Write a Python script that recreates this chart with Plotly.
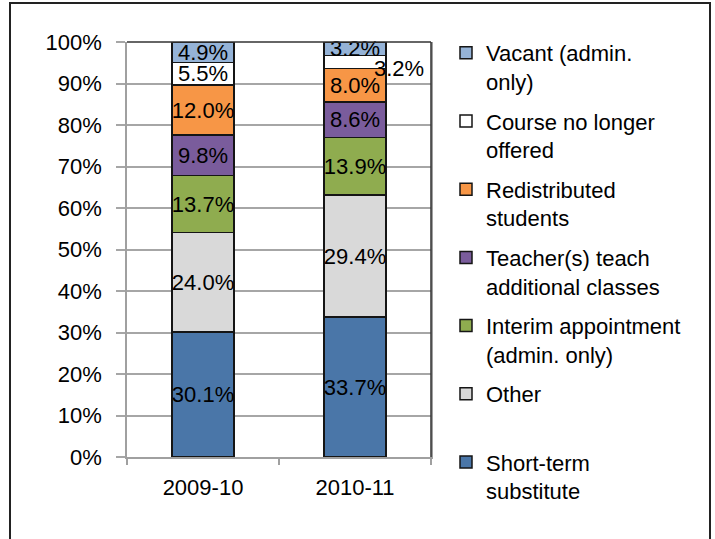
import plotly.graph_objects as go

categories = ["2009-10", "2010-11"]
series_names = [
    "Short-term<br>substitute",
    "Other<br>&nbsp;",
    "Interim appointment<br>(admin. only)",
    "Teacher(s) teach<br>additional classes",
    "Redistributed<br>students",
    "Course no longer<br>offered",
    "Vacant (admin.<br>only)",
]
short_term = [30.1, 33.7]
other = [24.0, 29.4]
interim = [13.7, 13.9]
teacher = [9.8, 8.6]
redistributed = [12.0, 8.0]
course_gone = [5.5, 3.2]
vacant = [4.9, 3.2]
series_values = [short_term, other, interim, teacher, redistributed, course_gone, vacant]
colors = ["#4a76a8", "#d9d9d9", "#8fac4f", "#7a5c9c", "#f79646", "#ffffff", "#95b3d7"]
y_ticks = list(range(0, 101, 10))
y_ticktext = [f"{v}%" for v in y_ticks]

FONT = "Arial, Liberation Sans, sans-serif"

# plot-area pixel geometry (used only for layout/margins)
W, H = 715, 539
L, R, T, B = 127, 431, 42, 457

fig = go.Figure()
n = len(series_names)
for i, (name, vals, col) in enumerate(zip(series_names, series_values, colors)):
    texts = [f"{v:.1f}%" for v in vals]
    if name.startswith("Course"):
        texts[1] = ""
    fig.add_trace(go.Bar(
        x=categories, y=vals, name=name, marker=dict(color=col, line=dict(color="#151515", width=1.5)),
        text=texts, textposition="inside", insidetextanchor="middle", textangle=0,
        textfont=dict(family=FONT, size=22, color="black"), cliponaxis=False,
        legendgroup=f"g{i}", legendrank=n - i, hoverinfo="skip",
    ))

# outside label for small 2010-11 "Course no longer offered" segment
cum = sum(s[1] for s in series_values[:5])
fig.add_annotation(x=categories[1], y=cum + course_gone[1] / 2, text=f"{course_gone[1]:.1f}%",
                   showarrow=False, xshift=44, yshift=-7,
                   font=dict(family=FONT, size=22, color="black"))

px = lambda x: (x - L) / (R - L)
py = lambda y: (B - y) / (B - T)
fig.add_shape(type="rect", xref="paper", yref="paper", x0=px(10), x1=px(710), y0=py(560), y1=py(3),
              line=dict(color="#222222", width=2), layer="above")

fig.update_layout(
    width=W, height=H,
    margin=dict(l=L, r=W - R, t=T, b=H - B, pad=0, autoexpand=False),
    barmode="stack", bargap=0.59,
    plot_bgcolor="white", paper_bgcolor="white",
    font=dict(family=FONT, size=22, color="black"),
    uniformtext=dict(minsize=22, mode="show"),
    showlegend=True,
    legend=dict(x=px(446), y=py(32), xanchor="left", yanchor="top",
                traceorder="grouped", tracegroupgap=8, valign="top", maxheight=530,
                font=dict(family=FONT, size=22, color="black"),
                bgcolor="rgba(0,0,0,0)"),
    xaxis=dict(type="category", showline=True, linecolor="#a0a0a0", linewidth=1.5, mirror=False,
               ticks="outside", ticklen=6, tickcolor="#a0a0a0", tickwidth=1.5, tickson="boundaries",
               ticklabelstandoff=10, showgrid=False, tickfont=dict(size=22)),
    yaxis=dict(range=[0, 100], tickvals=y_ticks, ticktext=y_ticktext,
               showgrid=True, gridcolor="#a6a6a6", gridwidth=1.5, zeroline=False,
               showline=True, linecolor="#a0a0a0", linewidth=1.5, mirror=True,
               ticks="outside", ticklen=9, tickcolor="#a6a6a6", tickwidth=1.5,
               ticklabelstandoff=10, tickfont=dict(size=22)),
)
fig.add_shape(type="line", xref="paper", yref="paper", x0=0, x1=1, y0=1, y1=1,
              line=dict(color="#333333", width=1.5))
fig.add_shape(type="line", xref="paper", yref="paper", x0=1, x1=1, y0=0, y1=1,
              line=dict(color="#333333", width=1.5))

fig.write_html("out.html", config={"displayModeBar": False},
               post_script="document.body.style.margin='0';")
